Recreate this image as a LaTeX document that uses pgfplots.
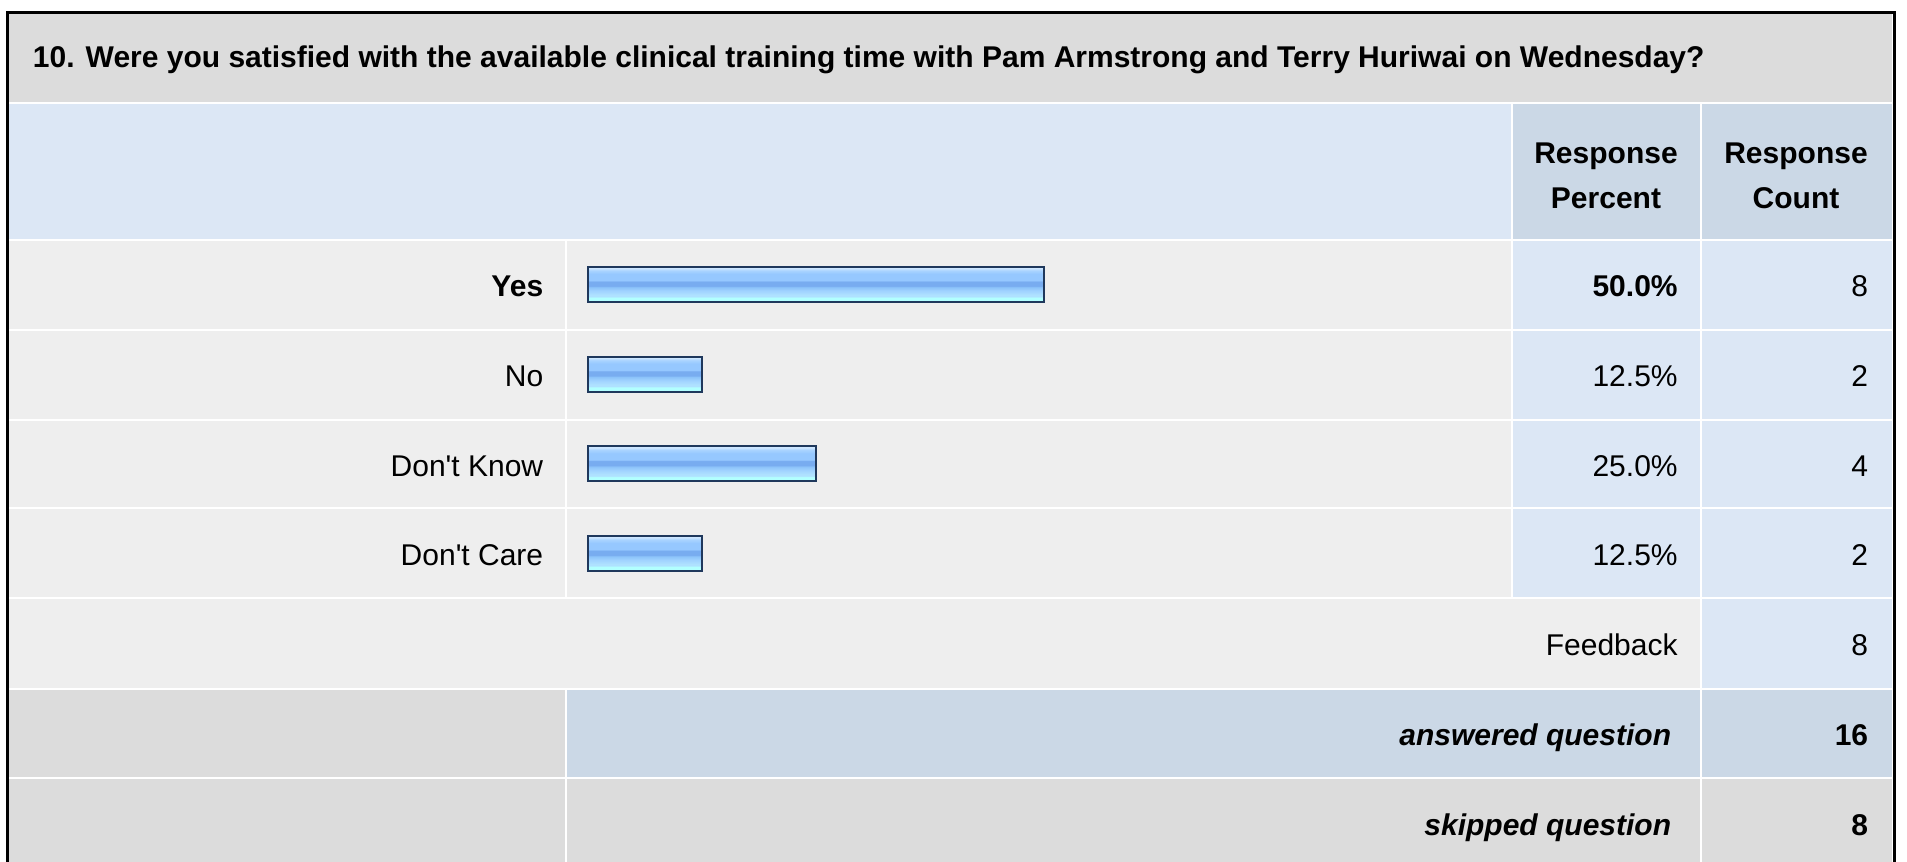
\documentclass[border=0pt]{standalone}
\usepackage{fontspec}
\setmainfont{Liberation Sans}[Ligatures=TeXOff]
\usepackage{pgfplots}
\pgfplotsset{compat=1.18}
\definecolor{titlegray}{RGB}{220,220,220}
\definecolor{rowgray}{RGB}{238,238,238}
\definecolor{lblue}{RGB}{220,231,245}
\definecolor{mblue}{RGB}{203,216,230}
\definecolor{barborder}{RGB}{31,56,92}
\definecolor{bsA}{RGB}{205,230,255}
\definecolor{bsB}{RGB}{170,212,255}
\definecolor{bsC}{RGB}{150,200,255}
\definecolor{bsD}{RGB}{120,172,240}
\definecolor{bsE}{RGB}{140,195,250}
\definecolor{bsF}{RGB}{160,210,255}
\definecolor{bsG}{RGB}{175,225,255}
\definecolor{bsH}{RGB}{178,255,255}
\pgfdeclareverticalshading{barshade}{100bp}{color(0bp)=(bsH); color(25bp)=(bsH); color(31bp)=(bsH); color(33bp)=(bsG); color(35bp)=(bsG); color(41bp)=(bsF); color(46bp)=(bsE); color(48bp)=(bsD); color(54bp)=(bsD); color(56bp)=(bsC); color(65bp)=(bsC); color(70bp)=(bsB); color(73bp)=(bsA); color(75bp)=(bsA); color(100bp)=(bsA)}
\newcommand{\cell}[5]{\fill[#5] (#1+1,#2+1) rectangle (#3-1,#4-1);}
\begin{document}
\begin{tikzpicture}[x=0.5pt,y=-0.5pt]
\useasboundingbox (0,0) rectangle (1907,862);
\coordinate (barorigin) at (588,239.6);
\begin{scope}
\clip (0,0) rectangle (1907,862);
\fill[white] (6,12) rectangle (1894,880);
% title
\cell{7}{13}{1893}{103.4}{titlegray}
% header
\cell{7}{103.4}{1511.8}{239.6}{lblue}
\cell{1511.8}{103.4}{1700.5}{239.6}{mblue}
\cell{1700.5}{103.4}{1893}{239.6}{mblue}
% data rows
\foreach \a/\b in {239.6/329.6, 329.6/419.6, 419.6/508.4, 508.4/598.4}{
  \cell{7}{\a}{565.5}{\b}{rowgray}
  \cell{565.5}{\a}{1511.8}{\b}{rowgray}
  \cell{1511.8}{\a}{1700.5}{\b}{lblue}
  \cell{1700.5}{\a}{1893}{\b}{lblue}
}
% feedback
\cell{7}{598.4}{1700.5}{688.5}{rowgray}
\cell{1700.5}{598.4}{1893}{688.5}{lblue}
% answered
\cell{7}{688.5}{565.5}{778}{titlegray}
\cell{565.5}{688.5}{1700.5}{778}{mblue}
\cell{1700.5}{688.5}{1893}{778}{mblue}
% skipped
\cell{7}{778}{565.5}{880}{titlegray}
\cell{565.5}{778}{1700.5}{880}{titlegray}
\cell{1700.5}{778}{1893}{880}{titlegray}
% outer border
\draw[black, line width=1.5pt] (7,12.5) rectangle (1894,900);
\end{scope}
% bars
\begin{axis}[at={(barorigin)}, anchor=north west, scale only axis,
  width=456pt, height=179.4pt, xmin=0, xmax=100, ymin=0.5, ymax=4.5,
  y dir=reverse, hide axis, clip=false, xbar, bar width=17.5pt]
\addplot[draw=barborder, line width=0.9pt, shading=barshade, bar shift=0pt] coordinates {(50.0,1)};
\addplot[draw=barborder, line width=0.9pt, shading=barshade, bar shift=0pt] coordinates {(12.5,2)};
\addplot[draw=barborder, line width=0.9pt, shading=barshade, bar shift=0pt] coordinates {(25.0,3)};
\addplot[draw=barborder, line width=0.9pt, shading=barshade, bar shift=0pt] coordinates {(12.5,4)};
\end{axis}
\tikzset{t/.style={inner sep=0pt, font=\fontsize{15}{18}\selectfont},
         tb/.style={inner sep=0pt, font=\bfseries\fontsize{15}{18}\selectfont},
         tbi/.style={inner sep=0pt, font=\bfseries\itshape\fontsize{15}{18}\selectfont}}
\node[tb, anchor=base west] at (32.5,67.5) {10. Were you satisfied with the available clinical training time with Pam Armstrong and Terry Huriwai on Wednesday?};
\node[tb, anchor=base] at (1606,163) {Response};
\node[tb, anchor=base] at (1606,208) {Percent};
\node[tb, anchor=base] at (1796,163) {Response};
\node[tb, anchor=base] at (1796,208) {Count};
% row labels
\node[tb, anchor=base east] at (543.6,296.6) {Yes};
\node[t, anchor=base east] at (543.6,386.6) {No};
\node[t, anchor=base east] at (543.6,476) {Don't Know};
\node[t, anchor=base east] at (543.6,565.4) {Don't Care};
% percents
\node[tb, anchor=base east] at (1678,296.6) {50.0\%};
\node[t, anchor=base east] at (1678,386.6) {12.5\%};
\node[t, anchor=base east] at (1678,476) {25.0\%};
\node[t, anchor=base east] at (1678,565.4) {12.5\%};
% counts
\node[t, anchor=base east] at (1868.5,296.6) {8};
\node[t, anchor=base east] at (1868.5,386.6) {2};
\node[t, anchor=base east] at (1868.5,476) {4};
\node[t, anchor=base east] at (1868.5,565.4) {2};
% feedback / answered / skipped
\node[t, anchor=base east] at (1678,655.5) {Feedback};
\node[t, anchor=base east] at (1868.5,655.5) {8};
\node[tbi, anchor=base east] at (1671.5,745) {answered question};
\node[tb, anchor=base east] at (1868.5,745) {16};
\node[tbi, anchor=base east] at (1671.5,835) {skipped question};
\node[tb, anchor=base east] at (1868.5,835) {8};
\end{tikzpicture}
\end{document}
